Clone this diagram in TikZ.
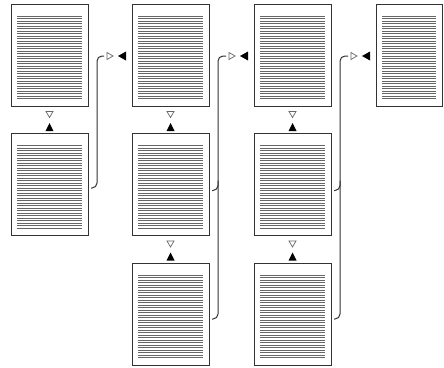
\documentclass[tikz,border=0pt]{standalone}
\usetikzlibrary{calc}
\tikzset{
  page/.style={draw=black!80, line width=1pt, fill=white, minimum width=77pt, minimum height=102pt, inner sep=0pt, outer sep=0pt},
  rule/.style={draw=black!60, line width=0.6pt},
  conn/.style={draw=black!80, line width=1pt, rounded corners=5pt},
  opentri/.style={draw=black!60, line width=0.7pt, fill=white, line join=miter},
  filltri/.style={fill=black, draw=none}
}
\newcommand{\pagelines}[1]{%
  \foreach \i in {0,...,33} {
    \draw[rule] ($(#1.north west)+(6,12+2.5*\i)$) -- ($(#1.north east)+(-6,12+2.5*\i)$);
  }}
\newcommand{\vtris}[1]{% triangles below page #1
  \draw[opentri] ($(#1.south)+(-3.5,5.5)$) -- ($(#1.south)+(3.5,5.5)$) -- ($(#1.south)+(0,11.5)$) -- cycle;
  \fill[filltri] ($(#1.south)+(-4,25)$) -- ($(#1.south)+(4,25)$) -- ($(#1.south)+(0,17)$) -- cycle;}
\newcommand{\htris}[1]{% triangles left of page #1
  \draw[opentri] ($(#1.west)+(-25,-2.5)$) -- ($(#1.west)+(-25,4.5)$) -- ($(#1.west)+(-19,1)$) -- cycle;
  \fill[filltri] ($(#1.west)+(-6,-3.5)$) -- ($(#1.west)+(-6,5.5)$) -- ($(#1.west)+(-14,1)$) -- cycle;}
\begin{document}
\begin{tikzpicture}[x=1pt,y=-1pt]
\useasboundingbox (0,0) rectangle (444,367);
% pages
\node[page] (a1) at (49.5,55) {};
\node[page] (a2) at (49.5,184.5) {};
\node[page] (b1) at (170.5,55) {};
\node[page] (b2) at (170.5,184.5) {};
\node[page] (b3) at (170.5,314) {};
\node[page] (c1) at (292.5,55) {};
\node[page] (c2) at (292.5,184.5) {};
\node[page] (c3) at (292.5,314) {};
\node[page, minimum width=66pt] (d1) at (409,55) {};
\foreach \p in {a1,a2,b1,b2,b3,c1,c2,c3,d1} { \pagelines{\p} }
% vertical triangles
\vtris{a1}
\vtris{b1}
\vtris{b2}
\vtris{c1}
\vtris{c2}
% horizontal triangles
\htris{b1}
\htris{c1}
\htris{d1}
% connectors
\coordinate (ta) at ($(b1.west)+(-28,1)$);
\coordinate (tb) at ($(c1.west)+(-28,1)$);
\coordinate (tc) at ($(d1.west)+(-28,1)$);
\draw[conn] ($(a2.east)+(3,3.5)$) -| ($(a2.east |- ta)+(9,0)$) -- (ta);
\draw[conn] ($(b3.east)+(3,5)$) -| ($(b3.east |- tb)+(9,0)$) -- (tb);
\draw[conn] ($(b2.east)+(3,6)$) -| ($(b2.east)+(9,-4)$);
\draw[conn] ($(c3.east)+(3,5)$) -| ($(c3.east |- tc)+(9,0)$) -- (tc);
\draw[conn] ($(c2.east)+(3,6)$) -| ($(c2.east)+(9,-4)$);
\end{tikzpicture}
\end{document}
